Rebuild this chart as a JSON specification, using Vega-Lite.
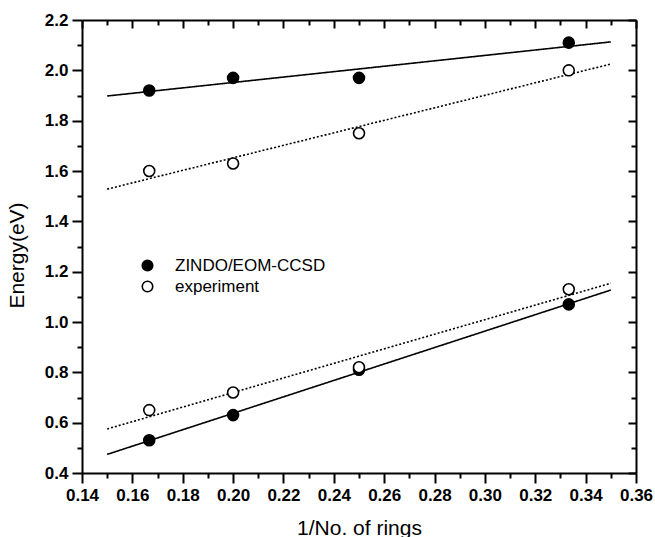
{
  "$schema": "https://vega.github.io/schema/vega-lite/v6.json",
  "width": 554,
  "height": 453,
  "autosize": {"type": "none"},
  "padding": {"left": 82, "top": 20, "right": 19, "bottom": 64},
  "background": "white",
  "config": {
    "view": {"stroke": null},
    "font": "Liberation Sans",
    "axis": {
      "grid": false,
      "labelFlush": false,
      "labelOverlap": false,
      "domainColor": "black",
      "domainWidth": 2,
      "tickColor": "black",
      "tickWidth": 2,
      "labelColor": "black",
      "labelFont": "Liberation Sans",
      "labelFontSize": 17,
      "labelFontWeight": "bold",
      "titleColor": "black",
      "titleFont": "Liberation Sans",
      "titleFontSize": 21,
      "titleFontWeight": "normal"
    }
  },
  "datasets": {
    "fits": [
      {"line": "upper-calc", "fit": "calc", "x": 0.15, "y": 1.898},
      {"line": "upper-calc", "fit": "calc", "x": 0.35, "y": 2.113},
      {"line": "upper-exp", "fit": "exp", "x": 0.15, "y": 1.528},
      {"line": "upper-exp", "fit": "exp", "x": 0.35, "y": 2.025},
      {"line": "lower-calc", "fit": "calc", "x": 0.15, "y": 0.474},
      {"line": "lower-calc", "fit": "calc", "x": 0.35, "y": 1.127},
      {"line": "lower-exp", "fit": "exp", "x": 0.15, "y": 0.575},
      {"line": "lower-exp", "fit": "exp", "x": 0.35, "y": 1.154}
    ],
    "points": [
      {"series": "ZINDO/EOM-CCSD", "x": 0.1667, "y": 1.92},
      {"series": "ZINDO/EOM-CCSD", "x": 0.2, "y": 1.97},
      {"series": "ZINDO/EOM-CCSD", "x": 0.25, "y": 1.97},
      {"series": "ZINDO/EOM-CCSD", "x": 0.3333, "y": 2.11},
      {"series": "experiment", "x": 0.1667, "y": 1.6},
      {"series": "experiment", "x": 0.2, "y": 1.63},
      {"series": "experiment", "x": 0.25, "y": 1.75},
      {"series": "experiment", "x": 0.3333, "y": 2.0},
      {"series": "ZINDO/EOM-CCSD", "x": 0.1667, "y": 0.53},
      {"series": "ZINDO/EOM-CCSD", "x": 0.2, "y": 0.63},
      {"series": "ZINDO/EOM-CCSD", "x": 0.25, "y": 0.81},
      {"series": "ZINDO/EOM-CCSD", "x": 0.3333, "y": 1.07},
      {"series": "experiment", "x": 0.1667, "y": 0.65},
      {"series": "experiment", "x": 0.2, "y": 0.72},
      {"series": "experiment", "x": 0.25, "y": 0.82},
      {"series": "experiment", "x": 0.3333, "y": 1.13}
    ]
  },
  "layer": [
    {
      "data": {"name": "fits"},
      "mark": {"type": "line", "color": "black", "strokeWidth": 1.6},
      "encoding": {
        "x": {
          "field": "x", "type": "quantitative",
          "scale": {"domain": [0.14, 0.36], "nice": false, "zero": false},
          "axis": {
            "orient": "bottom",
            "values": [0.14, 0.16, 0.18, 0.2, 0.22, 0.24, 0.26, 0.28, 0.3, 0.32, 0.34, 0.36],
            "format": ".2f",
            "tickSize": 10,
            "labelPadding": 4,
            "title": "1/No. of rings",
            "titleY": 55,
            "titleBaseline": "middle"
          }
        },
        "y": {
          "field": "y", "type": "quantitative",
          "scale": {"domain": [0.4, 2.2], "nice": false, "zero": false},
          "axis": {
            "orient": "left",
            "values": [0.4, 0.6, 0.8, 1.0, 1.2, 1.4, 1.6, 1.8, 2.0, 2.2],
            "format": ".1f",
            "tickSize": 10,
            "labelPadding": 4,
            "title": "Energy(eV)",
            "titleX": -65,
            "titleY": 235,
            "titleBaseline": "middle",
            "titleAngle": -90
          }
        },
        "detail": {"field": "line"},
        "strokeDash": {
          "field": "fit", "type": "nominal",
          "scale": {"domain": ["calc", "exp"], "range": [[1, 0], [2, 2]]},
          "legend": null
        }
      }
    },
    {
      "data": {"name": "points"},
      "mark": {"type": "point", "shape": "circle", "filled": true, "size": 120, "stroke": "black", "strokeWidth": 1.6, "opacity": 1},
      "encoding": {
        "x": {
          "field": "x", "type": "quantitative",
          "axis": {
            "orient": "bottom",
            "values": [0.15, 0.17, 0.19, 0.21, 0.23, 0.25, 0.27, 0.29, 0.31, 0.33, 0.35],
            "labels": false, "domain": false, "tickSize": 5, "title": null
          }
        },
        "y": {
          "field": "y", "type": "quantitative",
          "axis": {
            "orient": "left",
            "values": [0.5, 0.7, 0.9, 1.1, 1.3, 1.5, 1.7, 1.9, 2.1],
            "labels": false, "domain": false, "tickSize": 5, "title": null
          }
        },
        "fill": {
          "field": "series", "type": "nominal",
          "scale": {"domain": ["ZINDO/EOM-CCSD", "experiment"], "range": ["black", "white"]},
          "legend": {
            "orient": "none",
            "legendX": 57,
            "legendY": 237,
            "title": null,
            "padding": 0,
            "symbolType": "circle",
            "symbolSize": 110,
            "symbolStrokeColor": "black",
            "symbolStrokeWidth": 1.6,
            "labelFont": "Liberation Sans",
            "labelFontSize": 17,
            "labelColor": "black",
            "labelOffset": 19,
            "rowPadding": 3
          }
        }
      }
    },
    {
      "data": {"name": "points"},
      "mark": {"type": "point", "opacity": 0},
      "encoding": {
        "x": {
          "field": "x", "type": "quantitative",
          "axis": {
            "orient": "top",
            "values": [0.14, 0.16, 0.18, 0.2, 0.22, 0.24, 0.26, 0.28, 0.3, 0.32, 0.34, 0.36],
            "labels": false, "tickSize": -8, "title": null
          }
        },
        "y": {
          "field": "y", "type": "quantitative",
          "axis": {
            "orient": "right",
            "values": [0.4, 0.6, 0.8, 1.0, 1.2, 1.4, 1.6, 1.8, 2.0, 2.2],
            "labels": false, "tickSize": -8, "title": null
          }
        }
      }
    },
    {
      "data": {"name": "points"},
      "mark": {"type": "point", "opacity": 0},
      "encoding": {
        "x": {
          "field": "x", "type": "quantitative",
          "axis": {
            "orient": "top",
            "values": [0.15, 0.17, 0.19, 0.21, 0.23, 0.25, 0.27, 0.29, 0.31, 0.33, 0.35],
            "labels": false, "domain": false, "tickSize": -5, "title": null
          }
        },
        "y": {
          "field": "y", "type": "quantitative",
          "axis": {
            "orient": "right",
            "values": [0.5, 0.7, 0.9, 1.1, 1.3, 1.5, 1.7, 1.9, 2.1],
            "labels": false, "domain": false, "tickSize": -5, "title": null
          }
        }
      }
    }
  ],
  "resolve": {"axis": {"x": "independent", "y": "independent"}}
}
